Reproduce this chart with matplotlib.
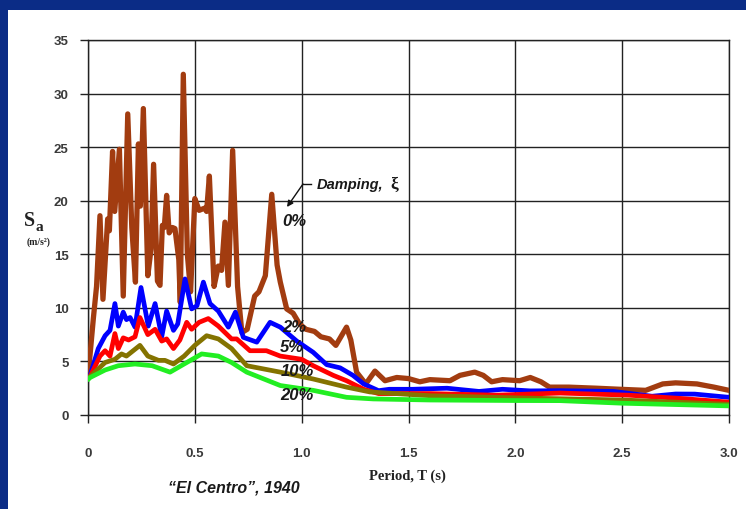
import matplotlib
matplotlib.use("Agg")
import matplotlib.pyplot as plt
from matplotlib.patches import Rectangle, FancyArrowPatch

# ---------------- data ----------------
t_0 = [0.0, 0.025, 0.04, 0.056, 0.07, 0.092, 0.10, 0.115, 0.125, 0.147, 0.165, 0.186,
       0.205, 0.222, 0.236, 0.245, 0.259, 0.28, 0.295, 0.307, 0.325, 0.337, 0.348, 0.357,
       0.368, 0.38, 0.395, 0.407, 0.425, 0.432, 0.446, 0.465, 0.48, 0.50, 0.52, 0.545,
       0.555, 0.568, 0.59, 0.61, 0.625, 0.641, 0.657, 0.677, 0.70, 0.72, 0.745, 0.78,
       0.80, 0.83, 0.86, 0.885, 0.90, 0.93, 0.96, 0.99, 1.02, 1.06, 1.09, 1.13, 1.16,
       1.21, 1.23, 1.257, 1.30, 1.343, 1.39, 1.445, 1.50, 1.553, 1.60, 1.694, 1.741,
       1.81, 1.85, 1.889, 1.94, 2.02, 2.07, 2.12, 2.16, 2.25, 2.38, 2.49, 2.61, 2.69,
       2.75, 2.85, 2.93, 3.00]
sa_0 = [3.5, 9.0, 12.0, 18.6, 10.8, 18.3, 17.2, 24.6, 19.0, 24.8, 11.1, 28.1,
        17.5, 12.4, 25.3, 19.5, 28.6, 13.0, 15.5, 23.4, 12.5, 12.1, 17.7, 17.5,
        20.5, 17.0, 17.5, 17.4, 14.5, 10.5, 31.8, 15.0, 11.5, 20.2, 19.1, 19.3,
        19.0, 22.3, 12.0, 13.9, 13.5, 18.0, 12.1, 24.7, 12.0, 7.7, 8.0, 11.1,
        11.5, 13.0, 20.6, 14.0, 12.4, 9.9, 9.5, 8.5, 8.0, 7.8, 7.3, 7.1, 6.5,
        8.2, 7.0, 4.0, 2.9, 4.1, 3.2, 3.5, 3.4, 3.1, 3.3, 3.2, 3.7,
        4.0, 3.7, 3.1, 3.3, 3.2, 3.5, 3.1, 2.6, 2.6, 2.5, 2.4, 2.3, 2.9,
        3.0, 2.9, 2.6, 2.3]

t_2 = [0.0, 0.01, 0.048, 0.08, 0.103, 0.126, 0.142, 0.165, 0.18, 0.197, 0.22, 0.248,
       0.282, 0.314, 0.345, 0.368, 0.40, 0.42, 0.454, 0.485, 0.51, 0.54, 0.571, 0.61,
       0.657, 0.69, 0.727, 0.79, 0.852, 0.90, 0.977, 1.054, 1.117, 1.18, 1.24, 1.29,
       1.36, 1.41, 1.52, 1.68, 1.83, 1.94, 2.07, 2.21, 2.46, 2.64, 2.75, 2.84, 3.0]
sa_2 = [3.5, 3.7, 6.2, 7.4, 7.9, 10.4, 8.3, 9.6, 8.9, 9.1, 8.2, 11.9,
        8.3, 10.4, 7.3, 9.7, 7.9, 8.5, 12.7, 9.9, 10.2, 12.4, 10.4, 9.7,
        8.2, 9.6, 7.25, 6.8, 8.65, 8.2, 6.9, 5.85, 4.7, 4.4, 3.7, 2.9,
        2.27, 2.4, 2.4, 2.5, 2.2, 2.4, 2.25, 2.27, 2.2, 1.75, 1.96, 1.95, 1.65]

t_5 = [0.0, 0.01, 0.056, 0.08, 0.103, 0.126, 0.142, 0.165, 0.19, 0.22, 0.243, 0.28,
       0.314, 0.345, 0.368, 0.40, 0.43, 0.462, 0.485, 0.52, 0.563, 0.61, 0.672, 0.696,
       0.758, 0.835, 0.90, 1.0, 1.054, 1.148, 1.21, 1.29, 1.36, 1.6, 1.91, 2.21, 2.53,
       2.77, 3.0]
sa_5 = [3.4, 3.6, 5.5, 6.0, 5.5, 7.6, 6.2, 7.2, 7.0, 7.3, 9.1, 7.5,
        8.0, 6.9, 7.1, 6.2, 7.0, 8.65, 8.0, 8.65, 9.0, 8.3, 7.1, 7.1,
        6.0, 6.0, 5.5, 5.2, 4.6, 3.7, 3.2, 2.4, 2.0, 2.0, 1.85, 2.05, 1.85,
        1.55, 1.2]

t_10 = [0.0, 0.01, 0.08, 0.126, 0.157, 0.18, 0.243, 0.28, 0.33, 0.36, 0.40, 0.45,
        0.50, 0.555, 0.61, 0.672, 0.743, 0.90, 1.054, 1.21, 1.32, 1.6, 2.0, 2.5, 3.0]
sa_10 = [3.4, 3.6, 4.9, 5.2, 5.7, 5.5, 6.5, 5.5, 5.1, 5.1, 4.76, 5.5,
         6.5, 7.4, 7.1, 6.2, 4.6, 4.0, 3.36, 2.6, 2.15, 1.8, 1.6, 1.4, 1.0]

t_20 = [0.0, 0.01, 0.08, 0.142, 0.22, 0.30, 0.384, 0.45, 0.532, 0.61, 0.672, 0.743,
        0.90, 1.054, 1.21, 1.335, 1.6, 2.0, 2.21, 2.5, 3.0]
sa_20 = [3.3, 3.5, 4.2, 4.6, 4.76, 4.6, 4.0, 4.76, 5.7, 5.5, 4.9, 4.0,
         2.75, 2.3, 1.65, 1.5, 1.4, 1.35, 1.34, 1.1, 0.85]

x_ticks = [0, 0.5, 1.0, 1.5, 2.0, 2.5, 3.0]
x_tick_labels = ["0", "0.5", "1.0", "1.5", "2.0", "2.5", "3.0"]
y_ticks = [0, 5, 10, 15, 20, 25, 30, 35]
y_tick_labels = ["0", "5", "10", "15", "20", "25", "30", "35"]

# ---------------- figure ----------------
W, H = 746, 510
fig = plt.figure(figsize=(W / 100, H / 100), dpi=100)
fig.patch.set_facecolor("#0B2C86")
fig.patches.append(Rectangle((8 / W, 0), 1 - 8 / W, 1 - 11 / H,
                             transform=fig.transFigure, facecolor="white",
                             edgecolor="none", zorder=-10))

ax = fig.add_axes([88 / W, 1 - 416 / H, (729 - 88) / W, (416 - 41) / H])
ax.set_facecolor("white")
ax.set_xlim(0, 3.0)
ax.set_ylim(0, 35)

ax.grid(True, color="#222222", linewidth=1.0)
ax.set_axisbelow(True)

tick_font = dict(family=["Liberation Sans", "DejaVu Sans"], weight="bold", size=9.5)
ax.set_xticks(x_ticks)
ax.set_xticklabels(x_tick_labels, color="#3a3a3a", **tick_font)
ax.set_yticks(y_ticks)
ax.set_yticklabels(y_tick_labels, color="#3a3a3a", **tick_font)
ax.tick_params(axis="x", direction="out", length=6, width=1, color="#222222", pad=17)
ax.tick_params(axis="y", direction="out", length=6, width=1, color="#222222", pad=8)
for s in ax.spines.values():
    s.set_color("#222222")
    s.set_linewidth(1.0)

common = dict(solid_joinstyle="round", solid_capstyle="round")
ax.plot(t_0, sa_0, color="#A23C10", linewidth=3.8, zorder=3, **common)
ax.plot(t_2, sa_2, color="#0000FF", linewidth=3.4, zorder=4, **common)
ax.plot(t_5, sa_5, color="#FF0000", linewidth=3.4, zorder=5, **common)
ax.plot(t_10, sa_10, color="#847300", linewidth=3.4, zorder=6, **common)
ax.plot(t_20, sa_20, color="#22EE22", linewidth=3.4, zorder=7, **common)

def px(x, y):
    return x / W, 1 - y / H

lab = dict(family=["Liberation Sans", "DejaVu Sans"], weight="bold", style="italic",
           color="#1a1a1a")
for txt, (x, y) in [("0%", (294, 222)), ("2%", (294, 327)), ("5%", (292, 348)),
                    ("10%", (297, 372)), ("20%", (297, 395))]:
    fig.text(*px(x, y), txt, ha="center", va="center", fontsize=12, zorder=20, **lab)

fig.text(*px(317, 185), "Damping,", ha="left", va="center", fontsize=10.5, **lab)
fig.text(*px(390, 185), "ξ", ha="left", va="center", fontsize=12.5,
         family=["Liberation Serif", "DejaVu Serif"], weight="bold", color="#1a1a1a")
fig.add_artist(FancyArrowPatch(
    px(303, 185), px(287, 208), transform=fig.transFigure,
    arrowstyle="-|>", color="#111111", lw=1.0, mutation_scale=9,
    shrinkA=0, shrinkB=0, zorder=20))
fig.lines.append(plt.Line2D([303 / W, 311 / W], [1 - 185 / H, 1 - 185 / H],
                            transform=fig.transFigure, color="#111111", lw=1.0))

serif = ["Liberation Serif", "DejaVu Serif"]
fig.text(*px(407, 476), "Period, T (s)", ha="center", va="center", fontsize=10.5,
         family=serif, weight="bold", color="#222222")
fig.text(*px(29.5, 221.5), "S", ha="center", va="center", fontsize=14.5,
         family=serif, weight="bold", color="#222222")
fig.text(*px(39, 228), "a", ha="center", va="center", fontsize=11,
         family=serif, weight="bold", color="#222222")
fig.text(*px(39, 242), "(m/s²)", ha="center", va="center", fontsize=7,
         family=serif, weight="bold", color="#222222")

fig.text(*px(234, 488), "“El Centro”, 1940", ha="center", va="center", fontsize=11.5,
         **lab)

fig.savefig("out.png", dpi=100, facecolor=fig.get_facecolor())
